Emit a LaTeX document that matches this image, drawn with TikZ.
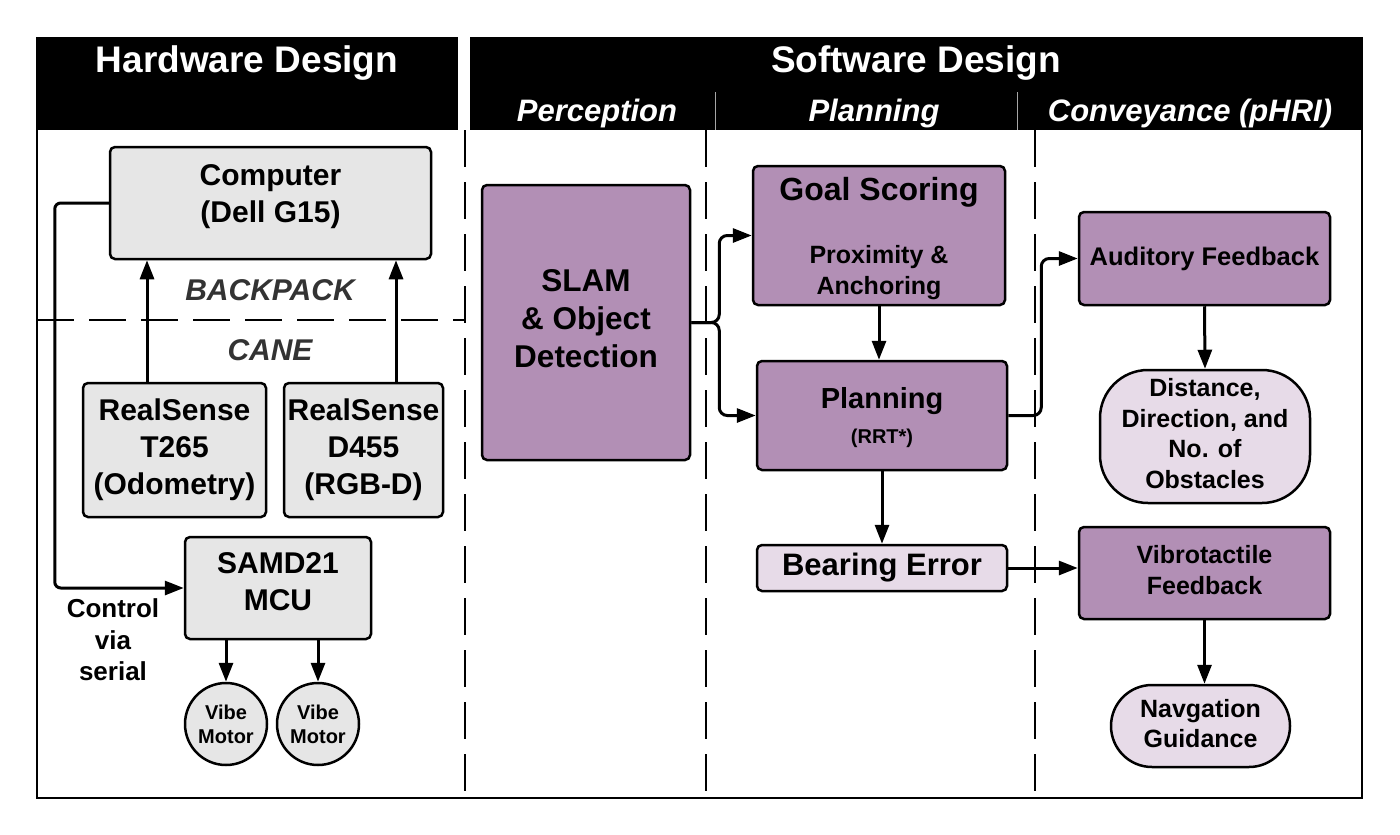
\documentclass[tikz,border=0pt]{standalone}
\usepackage{fontspec}
\setmainfont{Liberation Sans}
\usetikzlibrary{positioning,arrows.meta}

\definecolor{hwgrey}{RGB}{230,230,230}
\definecolor{swpurple}{RGB}{178,143,181}
\definecolor{swlight}{RGB}{231,219,232}
\definecolor{tagtext}{RGB}{51,51,51}
\newcommand{\fsz}[2]{\fontsize{#1}{#2}\selectfont}

\begin{document}
\begin{tikzpicture}[x=1pt, y=-1pt,
    box/.style={draw, line width=2.5pt, rounded corners=5pt, inner sep=0pt, align=center},
    hwbox/.style={box, fill=hwgrey},
    swbox/.style={box, fill=swpurple},
    outbox/.style={box, fill=swlight},
    arr/.style={line width=3pt, -{Triangle[length=19pt,width=14pt]}},
    lane/.style={line width=1.8pt, dash pattern=on 37pt off 15pt},
    head/.style={text=white, font=\bfseries\fsz{37}{44}, anchor=base},
    subhead/.style={text=white, font=\bfseries\itshape\fsz{31}{37}, anchor=base}]
\useasboundingbox (0,0) rectangle (1400,835);

% Header bars
\fill (37,37) rectangle (458,130);
\fill (470,37) rectangle (1362,130);
\draw[gray!70, line width=1pt] (715,92) -- (715,130) (1017,92) -- (1017,130);

% Outer frame
\draw[line width=2.5pt] (37,37) -- (37,798) -- (1362,798) -- (1362,37);

% Lane dividers
\foreach \x in {465,706,1035} {
    \draw[lane] (\x,130) -- (\x,798);
}
\draw[lane] (37,320) -- (465,320);

% Header titles
\node[head] (hwtitle) at (247,72) {Hardware Design};
\node[head] (swtitle) at (916,72) {Software Design};
\node[subhead] (percep) at (597,121) {Perception};
\node[subhead] (plng) at (874,121) {Planning};
\node[subhead] (convey) at (1190,121) {Conveyance (pHRI)};

% Hardware side
\node[hwbox, minimum width=321pt, minimum height=112pt, text depth=18pt, font=\bfseries\fsz{30}{37}] (comp) at (270.5,203) {Computer\\(Dell G15)};
\node[font=\bfseries\itshape\fsz{30}{36}, text=tagtext] (backpack) at (270,290) {BACKPACK};
\node[font=\bfseries\itshape\fsz{30}{36}, text=tagtext] (cane) at (270,350) {CANE};
\node[hwbox, minimum width=183pt, minimum height=134pt, font=\bfseries\fsz{30}{37}] (t265) at (174.5,450) {RealSense\\T265\\(Odometry)};
\node[hwbox, minimum width=159pt, minimum height=134pt, font=\bfseries\fsz{30}{37}] (d455) at (363.5,450) {RealSense\\D455\\(RGB-D)};
\node[hwbox, minimum width=186pt, minimum height=102pt, text depth=12pt, font=\bfseries\fsz{30}{37}] (mcu) at (278,588) {SAMD21\\MCU};
\node[hwbox, circle, minimum size=82pt, font=\bfseries\fsz{20}{24}] (vibeA) at (226,724) {Vibe\\Motor};
\node[hwbox, circle, minimum size=82pt, font=\bfseries\fsz{20}{24}] (vibeB) at (318,724) {Vibe\\Motor};
\node[align=center, font=\bfseries\fsz{26}{31.5}] (serial) at (113,640) {Control\\via\\serial};

\draw[arr] (t265.north -| 147,0) -- (comp.south -| 147,0);
\draw[arr] (d455.north -| 396,0) -- (comp.south -| 396,0);
\draw[arr, rounded corners=6pt] (comp.west) -- ++(-54,0) |- (mcu.west);
\draw[arr] (mcu.south -| vibeA.north) -- (vibeA.north);
\draw[arr] (mcu.south -| vibeB.north) -- (vibeB.north);

% Software side
\node[swbox, minimum width=208pt, minimum height=275pt, text depth=8pt, font=\bfseries\fsz{31.5}{38}] (slam) at (586,322.5) {SLAM\\\& Object\\Detection};
\node[swbox, minimum width=252pt, minimum height=139pt, text depth=-3pt, font=\bfseries\fsz{25}{31}] (goal) at (879,235.5) {{\fsz{32}{38}Goal Scoring}\\[32pt]Proximity \&\\Anchoring};
\node[swbox, minimum width=250pt, minimum height=109pt, text depth=0pt, font=\bfseries\fsz{29}{35}] (plan) at (882,415.5) {Planning\\[0pt]{\fsz{20}{24}(RRT*)}};
\node[outbox, minimum width=250pt, minimum height=46pt, font=\bfseries\fsz{31}{38}] (bear) at (882,568) {Bearing Error};
\node[swbox, minimum width=251pt, minimum height=93pt, font=\bfseries\fsz{25.5}{31}] (aud) at (1204.5,258.5) {Auditory Feedback};
\node[outbox, rounded corners=48pt, minimum width=210pt, minimum height=133pt, text depth=6pt, font=\bfseries\fsz{25}{30.5}] (dist) at (1205,436.5) {Distance,\\Direction, and\\No. of\\Obstacles};
\node[swbox, minimum width=251pt, minimum height=92pt, text depth=6pt, font=\bfseries\fsz{25}{31}] (vib) at (1204.5,573) {Vibrotactile\\Feedback};
\node[outbox, rounded corners=41pt, minimum width=179pt, minimum height=82pt, text depth=6pt, font=\bfseries\fsz{25}{30}] (nav) at (1200.5,726) {Navgation\\Guidance};

\draw[arr, rounded corners=8pt] (slam.east) -- ++(28,0) |- (goal.west);
\draw[arr, rounded corners=8pt] (slam.east) -- ++(28,0) |- (plan.west);
\draw[arr] (goal.south) -- (goal.south |- plan.north);
\draw[arr, rounded corners=8pt] (plan.east) -- ++(33,0) |- (aud.west);
\draw[arr] (aud.south) -- (dist.north);
\draw[arr] (plan.south) -- (bear.north);
\draw[arr] (bear.east) -- (bear.east -| vib.west);
\draw[arr] (vib.south) -- (vib.south |- nav.north);

\end{tikzpicture}
\end{document}
